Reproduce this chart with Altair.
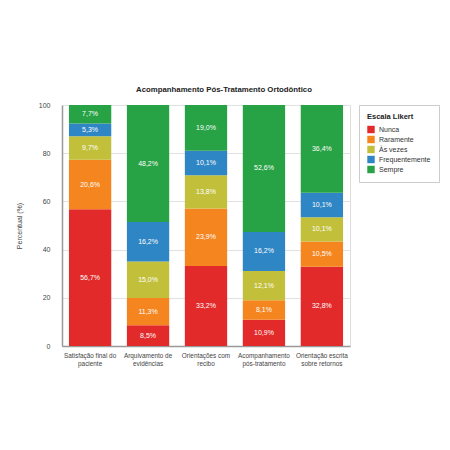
import altair as alt
import pandas as pd

categories = [
    "Satisfação final do paciente",
    "Arquivamento de evidências",
    "Orientações com recibo",
    "Acompanhamento pós-tratamento",
    "Orientação escrita sobre retornos",
]
wrapped = [
    ["Satisfação final do", "paciente"],
    ["Arquivamento de", "evidências"],
    ["Orientações com", "recibo"],
    ["Acompanhamento", "pós-tratamento"],
    ["Orientação escrita", "sobre retornos"],
]
levels = ["Nunca", "Raramente", "Às vezes", "Frequentemente", "Sempre"]
colors = ["#e32a2a", "#f5851f", "#c2bf3b", "#2f86c4", "#27a244"]

nunca = [56.7, 8.5, 33.2, 10.9, 32.8]
raramente = [20.6, 11.3, 23.9, 8.1, 10.5]
as_vezes = [9.7, 15.0, 13.8, 12.1, 10.1]
frequentemente = [5.3, 16.2, 10.1, 16.2, 10.1]
sempre = [7.7, 48.2, 19.0, 52.6, 36.4]

series = [nunca, raramente, as_vezes, frequentemente, sempre]
rows = []
for li, (lev, vals) in enumerate(zip(levels, series)):
    for cat, v in zip(categories, vals):
        rows.append({"cat": cat, "nivel": lev, "ordem": li, "valor": v,
                     "rot": f"{v:.1f}".replace(".", ",") + "%"})
df = pd.DataFrame(rows)

label_expr = " : ".join(
    f"datum.label == '{c}' ? {w!r}" for c, w in zip(categories, wrapped)
) + " : datum.label"

base = alt.Chart(df).transform_joinaggregate(
    total="sum(valor)", groupby=["cat"]
).transform_calculate(
    pct="100 * datum.valor / datum.total"
).transform_stack(
    stack="pct", groupby=["cat"], as_=["y0", "y1"],
    sort=[alt.SortField("ordem", order="ascending")],
).transform_calculate(mid="(datum.y0 + datum.y1) / 2")

x = alt.X("cat:N", sort=categories, title=None,
          scale=alt.Scale(paddingInner=0.27, paddingOuter=0.12),
          axis=alt.Axis(labelAngle=0, labelExpr=label_expr, labelFontSize=6.4,
                        labelColor="#444", domainColor="#999", domainWidth=1.5,
                        ticks=False, labelPadding=6, labelLineHeight=8.5))

bars = base.mark_bar().encode(
    x=x,
    y=alt.Y("y0:Q", title="Percentual (%)",
            scale=alt.Scale(domain=[0, 100]),
            axis=alt.Axis(values=[0, 20, 40, 60, 80, 100], labelFontSize=7,
                          labelColor="#444", titleFontSize=7, titleFontWeight="normal",
                          titleColor="#444", domainColor="#999", domainWidth=1.5,
                          ticks=False, labelPadding=12, titlePadding=16,
                          gridColor="#e2e2e2")),
    y2="y1:Q",
    color=alt.Color("nivel:N", sort=levels,
                    scale=alt.Scale(domain=levels, range=colors),
                    legend=alt.Legend(title="Escala Likert", orient="none",
                                      legendX=297, legendY=0,
                                      titleFontSize=7.5, titleFontWeight="bold",
                                      titleColor="#222", labelFontSize=7,
                                      labelColor="#333", symbolType="square",
                                      symbolSize=55, symbolStrokeWidth=0,
                                      strokeColor="#ccc", padding=8,
                                      rowPadding=2, fillColor="white")),
)

texts = base.mark_text(color="white", fontSize=7).encode(
    x=alt.X("cat:N", sort=categories),
    y=alt.Y("mid:Q"),
    text="rot:N",
)

chart = alt.layer(bars, texts).properties(
    width=288, height=241,
    title=alt.Title("Acompanhamento Pós-Tratamento Ortodôntico",
                    fontSize=7.8, fontWeight="bold", color="#222", offset=7,
                    anchor="middle", dx=18),
    autosize=alt.AutoSizeParams(type="none"),
    padding={"left": 54, "top": 97, "right": 92, "bottom": 96},
).configure_view(stroke=None).configure(font="Liberation Sans")

chart.save("out.html", embed_options={"renderer": "svg", "actions": False})
